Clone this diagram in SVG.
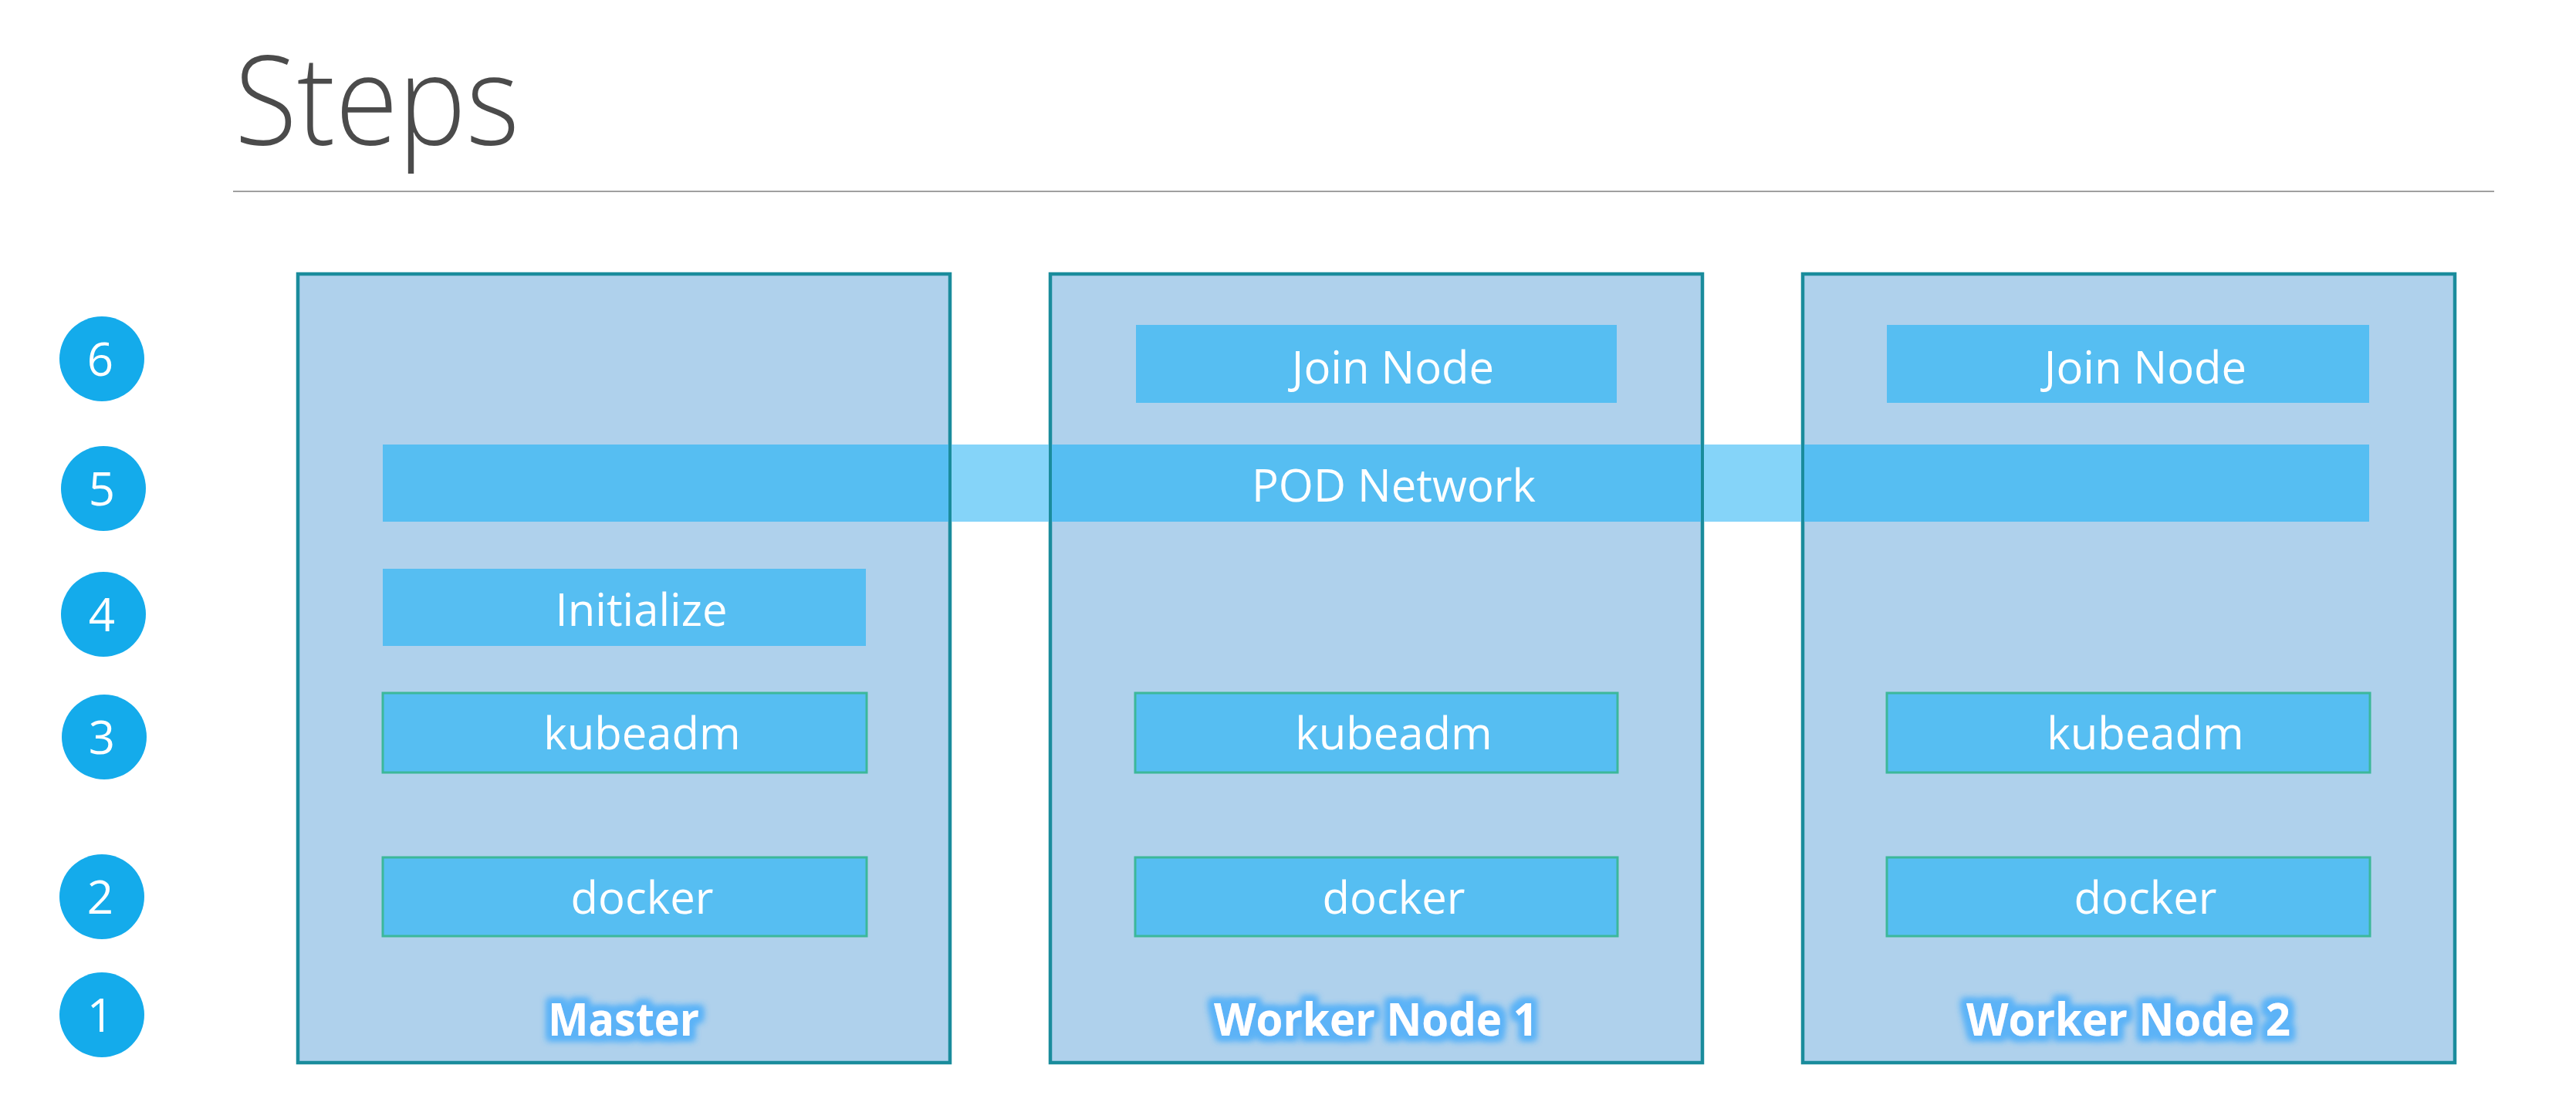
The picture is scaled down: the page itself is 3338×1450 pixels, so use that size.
<svg xmlns="http://www.w3.org/2000/svg" width="3338" height="1450" viewBox="0 0 3338 1450">
<defs>
<style>
.bg{fill:#ffffff}
.title{font-family:"Open Sans","Liberation Sans",sans-serif;font-weight:300;font-size:160px;fill:#4b4b4b}
.frame{fill:#afd1ec;stroke:#1a8c9c;stroke-width:4.5}
.item{fill:#56bef2}
.item2{fill:#56bef2;stroke:#3cb89a;stroke-width:3}
.gap{fill:#85d4f9}
.txt{font-family:"Open Sans","Liberation Sans",sans-serif;font-size:58px;fill:#ffffff;text-anchor:middle}
.lbl{font-family:"Open Sans","Liberation Sans",sans-serif;font-weight:700;font-size:59px;fill:#ffffff;text-anchor:middle}
.num{fill:#14abeb}
.numt{font-family:"Open Sans","Liberation Sans",sans-serif;font-size:60px;fill:#ffffff;text-anchor:middle}
</style>
<filter id="glow" x="-20%" y="-60%" width="140%" height="220%">
<feMorphology in="SourceAlpha" operator="dilate" radius="6" result="d"/>
<feGaussianBlur in="d" stdDeviation="4.5" result="b"/>
<feFlood flood-color="#5cb3f7"/>
<feComposite in2="b" operator="in" result="g"/>
<feMerge><feMergeNode in="g"/><feMergeNode in="g"/><feMergeNode in="SourceGraphic"/></feMerge>
</filter>
</defs>
<rect class="bg" x="0" y="0" width="3338" height="1450"/>
<g id="title">
<text class="title" x="304" y="187" textLength="369" lengthAdjust="spacingAndGlyphs">Steps</text>
<line x1="302" y1="248" x2="3232" y2="248" stroke="#a0a0a0" stroke-width="2"/>
</g>
<g id="steps">
<g id="step6"><circle class="num" cx="132" cy="465" r="55"/><text class="numt" x="130" y="487">6</text></g>
<g id="step5"><circle class="num" cx="134" cy="633" r="55"/><text class="numt" x="132" y="655">5</text></g>
<g id="step4"><circle class="num" cx="134" cy="796" r="55"/><text class="numt" x="132" y="818">4</text></g>
<g id="step3"><circle class="num" cx="135" cy="955" r="55"/><text class="numt" x="132" y="977">3</text></g>
<g id="step2"><circle class="num" cx="132" cy="1162" r="55"/><text class="numt" x="130" y="1184">2</text></g>
<g id="step1"><circle class="num" cx="132" cy="1315" r="55"/><text class="numt" x="130" y="1337">1</text></g>
</g>
<g id="master">
<rect class="frame" x="386" y="355" width="845" height="1022"/>
<text class="lbl" x="808" y="1342" textLength="196" lengthAdjust="spacingAndGlyphs" filter="url(#glow)">Master</text>
</g>
<g id="worker1">
<rect class="frame" x="1361" y="355" width="845" height="1022"/>
<text class="lbl" x="1783" y="1342" textLength="420" lengthAdjust="spacingAndGlyphs" filter="url(#glow)">Worker Node 1</text>
</g>
<g id="worker2">
<rect class="frame" x="2336" y="355" width="845" height="1022"/>
<text class="lbl" x="2758" y="1342" textLength="420" lengthAdjust="spacingAndGlyphs" filter="url(#glow)">Worker Node 2</text>
</g>
<g id="master-initialize">
<rect class="item" x="496" y="737" width="626" height="100"/>
<text class="txt" x="831" y="811">Initialize</text>
</g>
<g id="master-kubeadm">
<rect class="item2" x="496" y="898" width="627" height="103"/>
<text class="txt" x="832" y="971">kubeadm</text>
</g>
<g id="master-docker">
<rect class="item2" x="496" y="1111" width="627" height="102"/>
<text class="txt" x="832" y="1184">docker</text>
</g>
<g id="worker1-join">
<rect class="item" x="1472" y="421" width="623" height="101"/>
<text class="txt" x="1805" y="497">Join Node</text>
</g>
<g id="worker1-kubeadm">
<rect class="item2" x="1471" y="898" width="625" height="103"/>
<text class="txt" x="1806" y="971">kubeadm</text>
</g>
<g id="worker1-docker">
<rect class="item2" x="1471" y="1111" width="625" height="102"/>
<text class="txt" x="1806" y="1184">docker</text>
</g>
<g id="worker2-join">
<rect class="item" x="2445" y="421" width="625" height="101"/>
<text class="txt" x="2780" y="497">Join Node</text>
</g>
<g id="worker2-kubeadm">
<rect class="item2" x="2445" y="898" width="626" height="103"/>
<text class="txt" x="2780" y="971">kubeadm</text>
</g>
<g id="worker2-docker">
<rect class="item2" x="2445" y="1111" width="626" height="102"/>
<text class="txt" x="2780" y="1184">docker</text>
</g>
<g id="pod-network">
<rect class="item" x="496" y="576" width="733" height="100"/>
<rect class="gap" x="1233" y="576" width="126" height="100"/>
<rect class="item" x="1363" y="576" width="841" height="100"/>
<rect class="gap" x="2208" y="576" width="126" height="100"/>
<rect class="item" x="2338" y="576" width="732" height="100"/>
<text class="txt" x="1806" y="650">POD Network</text>
</g>
<g id="connectors"></g>
</svg>
